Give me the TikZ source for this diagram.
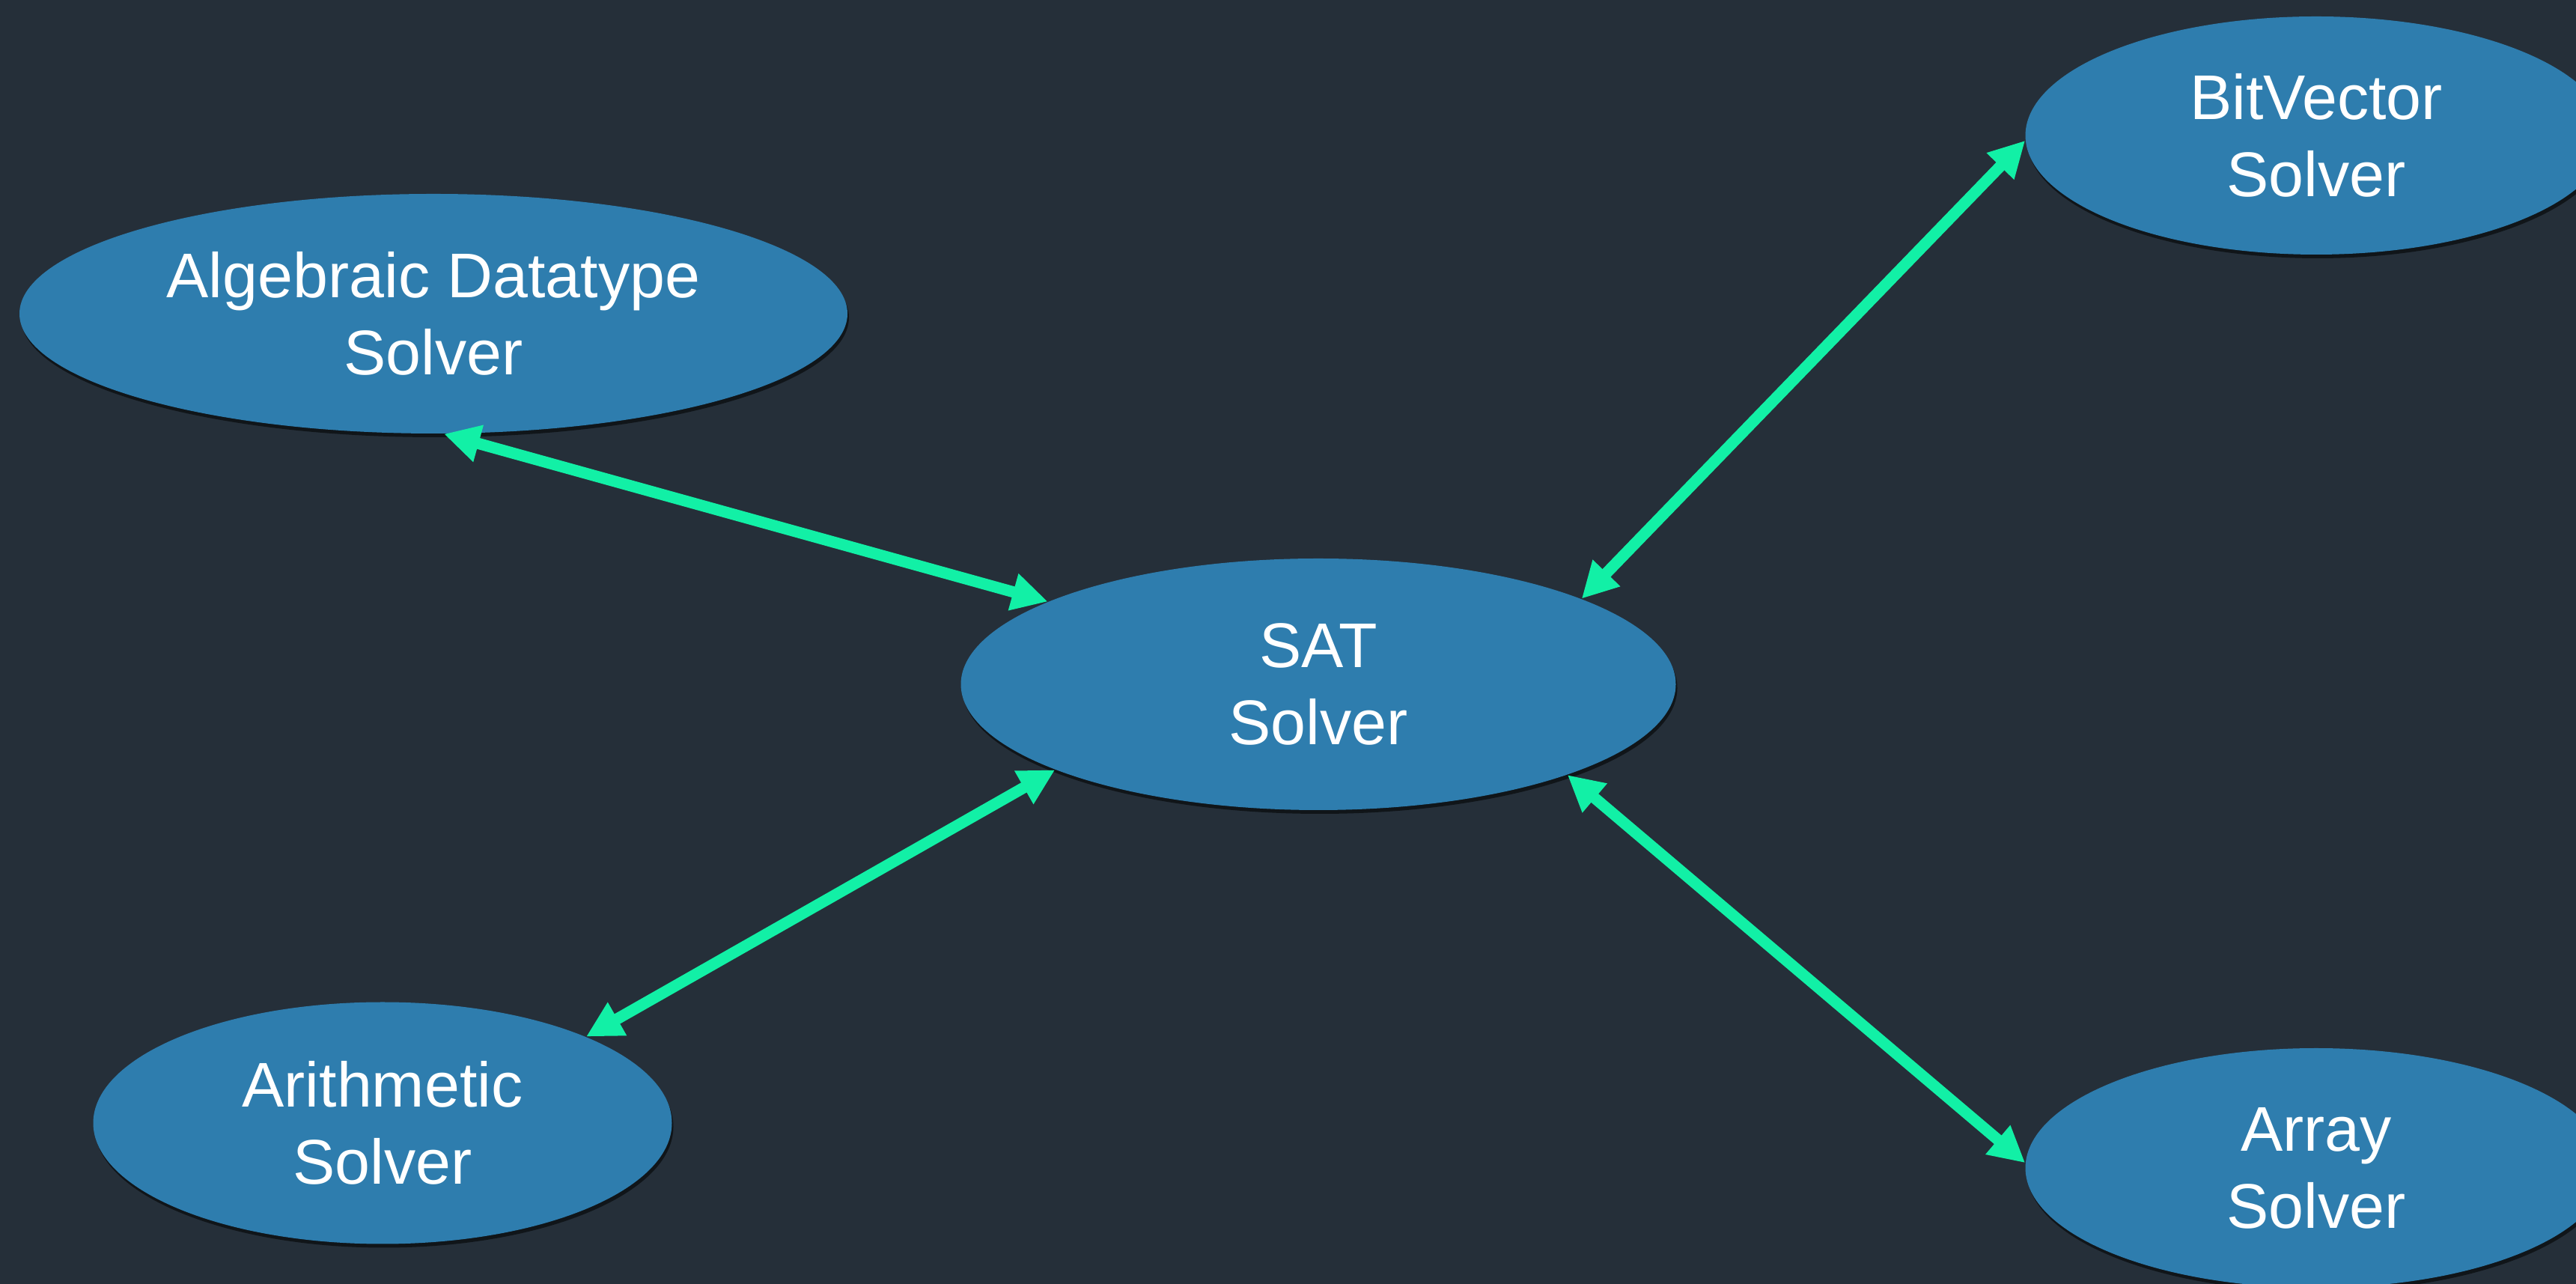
\documentclass[tikz,border=0pt]{standalone}
\usepackage{fontspec}
\setmainfont{Liberation Sans}
\usepackage{tikz}
\usetikzlibrary{arrows.meta}
\usetikzlibrary{shapes.geometric}
\usetikzlibrary{shadows}
\definecolor{slate}{HTML}{252F39}
\definecolor{paperblue}{HTML}{2E7DAE}
\definecolor{mint}{HTML}{12F0A6}
\tikzset{solver/.style = {ellipse, fill = paperblue, text = white, inner sep = 0,
                          align = center, font = \fontsize{24}{29.3}\selectfont,
                          drop shadow = {fill = black, opacity = 0.55, shadow xshift = 0.02,
                                         shadow yshift = -0.05}}}
\tikzset{link/.style = {draw = mint, line width = 4.3pt,
                        {Triangle[length = 13.6pt, width = 13.6pt]}-{Triangle[length = 13.6pt, width = 13.6pt]}}}

\begin{document}
\begin{tikzpicture}
    \fill [slate] (0, 0) rectangle (34.41, 17.15);
    \useasboundingbox (0, 0) rectangle (34.41, 17.15);
    \node [solver, minimum width = 11.06cm, minimum height = 3.2cm] (adt) at (5.79, 12.96) {Algebraic Datatype\\Solver};
    \node [solver, minimum width = 9.55cm, minimum height = 3.36cm] (sat) at (17.61, 8.01) {SAT\\Solver};
    \node [solver, minimum width = 7.73cm, minimum height = 3.23cm] (arith) at (5.11, 2.15) {Arithmetic\\Solver};
    \node [solver, minimum width = 7.77cm, minimum height = 3.18cm] (bv) at (30.94, 15.34) {BitVector\\Solver};
    \node [solver, minimum width = 7.77cm, minimum height = 3.2cm] (arr) at (30.94, 1.55) {Array\\Solver};
    \foreach \a/\b in {adt.-85/sat.163, bv.181/sat.18, arith.23/sat.198, arr.179/sat.-20} {
      \draw [link] (\a) -- (\b);
    }
  \end{tikzpicture}
\end{document}
